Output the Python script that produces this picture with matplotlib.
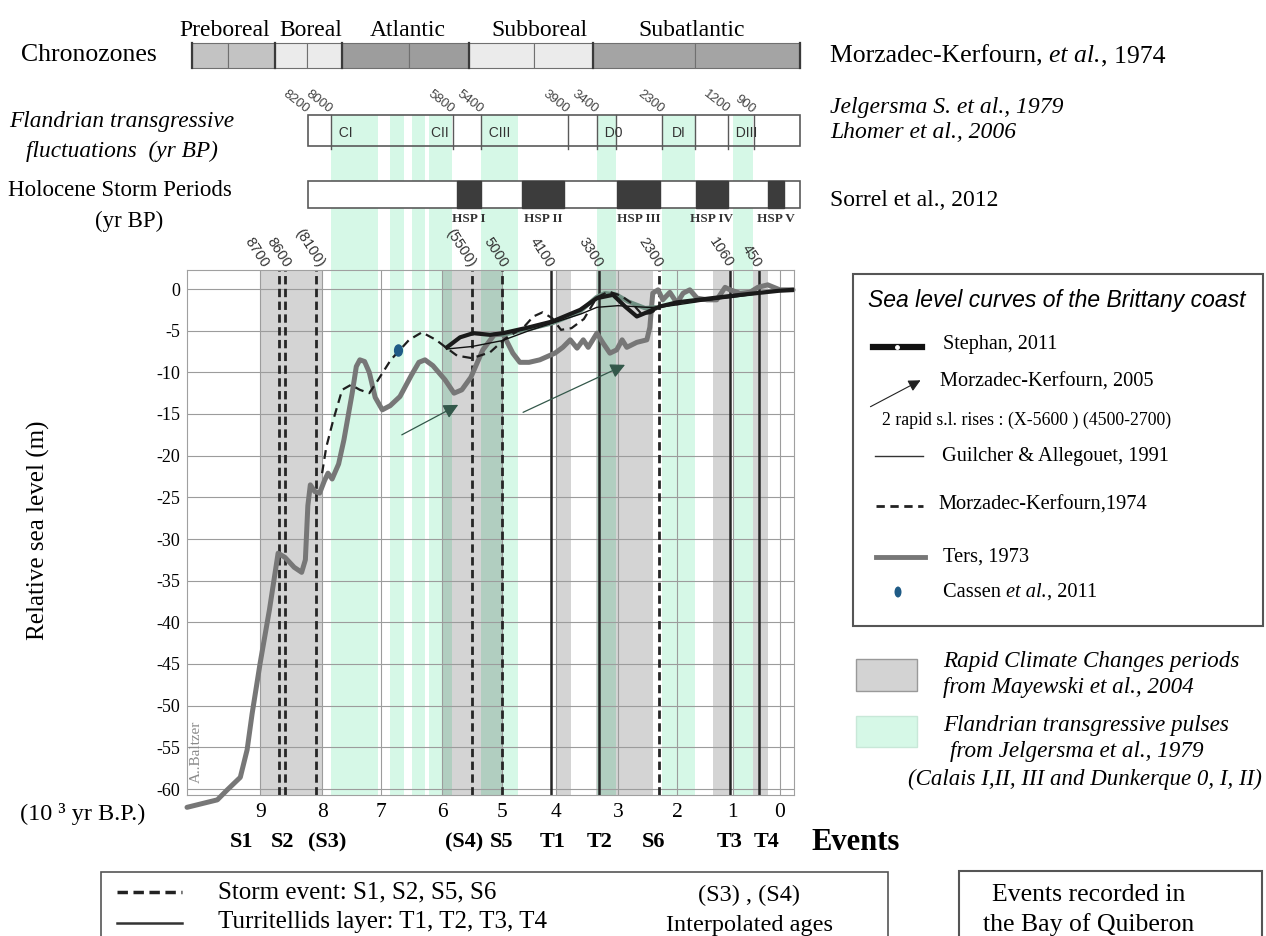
import numpy as np
import matplotlib
matplotlib.use("Agg")
import matplotlib.pyplot as plt
from matplotlib.patches import Rectangle, Ellipse, FancyArrowPatch
from matplotlib.lines import Line2D
from matplotlib.markers import MarkerStyle
from matplotlib.transforms import Affine2D

plt.rcParams["font.family"] = "Liberation Serif"
plt.rcParams["axes.unicode_minus"] = False

W, H = 1266, 936
SANS = "Liberation Sans"
GREEN = "#d6f8e7"
RCC = (0, 0, 0, 0.17)

# ---------------- data (ages in 10^3 yr BP, depths in m) ----------------
ticks_kyr = [9, 8, 7, 6, 5, 4, 3, 2, 1, 0]
depth_ticks = list(range(0, -61, -5))

# Ters, 1973 (main curve + upper branch)
ters_age = [10.18, 9.69, 9.53, 9.32, 9.21, 9.13, 9.0, 8.85, 8.71, 8.6, 8.45, 8.33,
            8.27, 8.23, 8.19, 8.12, 8.04, 7.96, 7.90, 7.83, 7.72, 7.63, 7.49, 7.42,
            7.36, 7.28, 7.2, 7.1, 6.98, 6.85, 6.69, 6.5, 6.38, 6.28, 6.15, 5.95,
            5.80, 5.67, 5.52, 5.32, 5.13, 4.98, 4.80, 4.67, 4.50, 4.30, 4.02, 3.89,
            3.77, 3.66, 3.56, 3.48, 3.34, 3.24, 3.13, 3.02, 2.93, 2.85, 2.68, 2.51,
            2.46, 2.41, 2.32, 2.24, 2.12, 2.0, 1.89, 1.77, 1.64, 1.46, 1.29, 1.14,
            1.05, 0.85, 0.64, 0.47, 0.26, 0.0, -0.28]
ters_depth = [-62.2, -61.3, -60.1, -58.6, -55.3, -51.0, -44.9, -38.5, -31.7, -32.2, -33.4, -34.0,
              -32.5, -26.0, -23.5, -24.3, -24.5, -23.0, -22.1, -22.8, -21.0, -18.1, -12.5, -9.3,
              -8.5, -8.7, -10.0, -13.0, -14.5, -14.0, -12.9, -10.3, -8.8, -8.5, -9.2, -10.9,
              -12.5, -12.1, -10.6, -7.3, -5.5, -5.4, -7.7, -8.8, -8.8, -8.5, -7.7, -7.0,
              -6.1, -7.1, -6.1, -7.0, -5.3, -6.5, -7.7, -7.3, -6.1, -7.0, -6.4, -6.1,
              -4.6, -0.5, -0.1, -1.3, -0.4, -1.7, -0.5, -0.1, -1.1, -1.3, -1.3, 0.2,
              -0.1, -0.5, -0.4, 0.2, 0.5, -0.1, -0.1]
ters_up_age = [5.0, 4.5, 4.07, 3.63, 3.35, 3.21, 3.02, 2.83, 2.54, 2.36]
ters_up_depth = [-5.5, -4.8, -4.1, -2.8, -1.0, -0.5, -0.7, -1.5, -2.3, -2.2]

# Stephan, 2011
steph_age = [5.92, 5.7, 5.48, 5.2, 4.98, 4.5, 4.07, 3.61, 3.34, 3.08, 2.88, 2.68,
             2.51, 2.29, 2.0, 1.5, 1.0, 0.5, 0.0, -0.28]
steph_depth = [-7.0, -5.8, -5.3, -5.5, -5.3, -4.6, -3.9, -2.5, -1.1, -0.7, -2.1, -3.3,
               -2.8, -2.1, -1.6, -1.2, -0.8, -0.5, -0.2, -0.1]

# Guilcher & Allegouet, 1991
guil_age = [5.92, 5.5, 5.0, 4.5, 4.07, 3.6, 3.34, 3.0, 2.5, 2.3, 2.0, 1.5, 1.0, 0.5, 0.0, -0.28]
guil_depth = [-7.2, -6.9, -6.2, -5.0, -4.1, -3.0, -2.2, -2.0, -2.2, -2.2, -1.9, -1.4, -1.0, -0.6, -0.2, -0.1]

# Morzadec-Kerfourn, 1974
morz_age = [8.0, 7.93, 7.81, 7.66, 7.51, 7.36, 7.2, 7.05, 6.84, 6.69, 6.54, 6.33,
            6.10, 5.92, 5.75, 5.5, 5.2, 4.95, 4.6, 4.42, 4.25, 4.07, 3.92, 3.75,
            3.55, 3.34, 3.15, 2.95, 2.75, 2.6, 2.45, 2.3]
morz_depth = [-22.1, -19.0, -15.7, -12.1, -11.5, -12.1, -12.5, -10.9, -8.5, -7.3, -6.1, -5.2,
              -6.1, -7.1, -8.0, -8.3, -7.6, -6.0, -4.6, -3.3, -2.8, -3.5, -4.9, -4.7,
              -3.6, -1.0, -0.3, -0.8, -1.8, -3.0, -2.9, -2.3]

# Cassen et al., 2011
cassen_age, cassen_depth = [6.72], [-7.3]

# Morzadec-Kerfourn, 2005: two rapid rises (tail, head)
rise_from = [(6.66, -17.5), (4.61, -14.8)]
rise_to = [(5.73, -13.9), (2.88, -9.1)]

# Rapid climate change periods (Mayewski et al., 2004)
rcc_start = [9.0, 6.0, 4.0, 3.35, 1.35, 0.57]
rcc_end = [8.0, 5.0, 3.75, 2.4, 1.05, 0.25]

# Flandrian transgressive pulses (Jelgersma et al., 1979)
green_start = [7.85, 6.85, 6.49, 6.21, 5.35, 3.34, 2.25, 1.0]
green_end = [7.05, 6.62, 6.28, 5.83, 4.70, 3.03, 1.68, 0.57]

# Events (Bay of Quiberon)
event_name = ["S1", "S2", "(S3)", "(S4)", "S5", "T1", "T2", "S6", "T3", "T4"]
event_age = [8.7, 8.6, 8.1, 5.5, 5.0, 4.1, 3.3, 2.3, 1.06, 0.45]
event_label = ["8700", "8600", "(8100)", "(5500)", "5000", "4100", "3300", "2300", "1060", "450"]
event_label_dx = [-13, 3, 5, 0, 3, 0, 0, 0, 0, 0]  # px nudges of the rotated labels
event_is_storm = [True, True, True, True, True, False, False, True, False, False]
event_text_x = [9.3, 8.63, 7.92, 5.63, 5.0, 4.06, 3.3, 2.4, 1.06, 0.28]

# Chronozones (Morzadec-Kerfourn et al., 1974)
chron_names = ["Preboreal", "Boreal", "Atlantic", "Subboreal", "Subatlantic"]
chron_edges = [10.1, 8.76, 7.66, 5.55, 3.40, -0.43]
chron_inner = [9.52, 8.24, 6.54, 4.41, 1.68]
chron_label_x = [9.58, 8.19, 6.56, 4.31, 1.73]
chron_colors = ["#c3c3c3", "#ebebeb", "#9d9d9d", "#ebebeb", "#a4a4a4"]

# Flandrian fluctuations bar
fland_span = (8.23, -0.43)
fland_lines = [7.85, 5.82, 5.35, 3.81, 3.34, 3.03, 2.25, 1.68, 1.09, 0.55]
fland_lab_age = [8.23, 7.85, 5.82, 5.35, 3.81, 3.34, 2.25, 1.09, 0.55]
fland_lab = ["8200", "8000", "5800", "5400", "3900", "3400", "2300", "1200", "900"]
pulse_names = ["CI", "CII", "CIII", "D0", "DI", "DIII"]
pulse_at = [7.85, 5.82, 5.35, 3.34, 1.97, 1.09]
pulse_ha = ["left", "right", "left", "left", "center", "left"]

# Holocene storm periods (Sorrel et al., 2012)
storm_span = (8.23, -0.43)
hsp_names = ["HSP I", "HSP II", "HSP III", "HSP IV", "HSP V"]
hsp_start = [5.75, 4.63, 3.02, 1.66, 0.26]
hsp_end = [5.35, 3.87, 2.29, 1.09, -0.09]

# ---------------- uneven hand-drawn time axis ----------------
SCALE_KYR = np.array([-5, 0, 1, 2, 3, 4, 5, 6, 7, 8, 9, 15], float)
SCALE_POS = np.array([1015, 780, 733, 677, 618, 556, 502, 442, 381, 322, 260, -112], float)


def fwd(a):
    return -np.interp(np.asarray(a, float), SCALE_KYR, SCALE_POS)


def inv(v):
    return np.interp(-np.asarray(v, float), SCALE_POS[::-1], SCALE_KYR[::-1])


def mid(a0, a1):
    return float(inv((fwd(a0) + fwd(a1)) / 2))


fig = plt.figure(figsize=(W / 100, H / 100), dpi=100)


def fx(p):
    return p / W


def fy(p):
    return 1 - p / H


AX_L, AX_R, AX_T, AX_B = 187, 794, 270, 795
ax = fig.add_axes([fx(AX_L), fy(AX_B), (AX_R - AX_L) / W, (AX_B - AX_T) / H])
ax.set_xscale("function", functions=(fwd, inv))
ax.set_xlim(10.18, -0.30)
ax.set_ylim(-60.72, 2.28)
trans = ax.get_xaxis_transform()

# green pulses run from the Flandrian bar down through the plot
top_green = (AX_B - 115) / (AX_B - AX_T)
for a0, a1 in zip(green_start, green_end):
    ax.add_patch(Rectangle((a0, 0), a1 - a0, top_green, transform=trans,
                           facecolor=GREEN, edgecolor="none", clip_on=False, zorder=0))
for a0, a1 in zip(rcc_start, rcc_end):
    ax.axvspan(a0, a1, color=RCC, lw=0, zorder=0.3)

ax.set_xticks(ticks_kyr)
ax.set_xticklabels([str(t) for t in ticks_kyr])
ax.set_yticks(depth_ticks)
ax.set_yticklabels([str(t) for t in depth_ticks])
ax.set_axisbelow(True)
ax.grid(True, color="#9c9c9c", lw=0.8)
ax.tick_params(axis="both", length=0)
ax.tick_params(axis="x", labelsize=15.5, pad=6)
ax.tick_params(axis="y", labelsize=13, pad=5)
for s in ax.spines.values():
    s.set_color("#a0a0a0")
    s.set_linewidth(0.8)

for a, storm in zip(event_age, event_is_storm):
    if storm:
        ax.axvline(a, color="#262626", lw=2.0, ls=(0, (3, 1.6)), zorder=2)
    else:
        ax.axvline(a, color="#262626", lw=1.8, zorder=2)

ax.plot(ters_age, ters_depth, color="#777777", lw=3.6, zorder=3,
        solid_joinstyle="round", solid_capstyle="round", clip_on=False)
ax.plot(ters_up_age, ters_up_depth, color="#6f8f82", lw=3.2, zorder=3,
        solid_joinstyle="round", solid_capstyle="round")
ax.plot(morz_age, morz_depth, color="#1e1e1e", lw=1.6, ls=(0, (4, 2.5)), zorder=4)
ax.plot(guil_age, guil_depth, color="#111111", lw=1.0, zorder=4)
ax.plot(steph_age, steph_depth, color="#1a1a1a", lw=3.0, zorder=5,
        solid_joinstyle="round")
ax.plot(cassen_age, cassen_depth, ls="none", color="#1f5b86", markersize=8,
        marker=MarkerStyle("o", transform=Affine2D().scale(0.7, 1.0)), zorder=6)
for p0, p1 in zip(rise_from, rise_to):
    ax.annotate("", xy=p1, xytext=p0, zorder=6,
                arrowprops=dict(arrowstyle="-|>", color="#33584a", lw=0.9,
                                mutation_scale=22, shrinkA=0, shrinkB=0))

for a, lab, dx in zip(event_age, event_label, event_label_dx):
    ax.annotate(lab, xy=(a, 1 + 4 / 525), xycoords=trans, xytext=(dx * 0.72, 0),
                textcoords="offset points", rotation=-57, rotation_mode="anchor",
                ha="right", va="center", fontsize=10.5, family=SANS, color="#333333",
                annotation_clip=False)
for a, name in zip(event_text_x, event_name):
    ax.text(a, -47 / 525, name, transform=trans, ha="center", va="center",
            fontsize=16, fontweight="bold")

fig.text(fx(811), fy(842), "Events", fontsize=22, fontweight="bold", va="center")
fig.text(fx(20), fy(814), "(10 \u00b3 yr B.P.)", fontsize=17.5, va="center")
fig.text(fx(38), fy(530), "Relative sea level (m)", rotation=90, fontsize=18,
         ha="center", va="center")
fig.text(fx(196), fy(752), "A..Baltzer", rotation=90, fontsize=11, color="#8a8a8a",
         ha="center", va="center")


def bar_axes(top, bottom):
    b = fig.add_axes([fx(AX_L), fy(bottom), (AX_R - AX_L) / W, (bottom - top) / H], sharex=ax)
    b.set_ylim(0, 1)
    b.axis("off")
    return b


# chronozones
cz = bar_axes(43, 68)
for i, name in enumerate(chron_names):
    a0, a1, am = chron_edges[i], chron_edges[i + 1], chron_inner[i]
    for b0, b1 in ((a0, am), (am, a1)):
        cz.add_patch(Rectangle((b0, 0), b1 - b0, 1, facecolor=chron_colors[i],
                               edgecolor="#707070", lw=0.8, clip_on=False))
    cz.text(chron_label_x[i], 1.5, name, ha="center", va="center", fontsize=17)
for a in chron_edges:
    cz.plot([a, a], [0, 1], color="#3a3a3a", lw=1.6, clip_on=False)

# Flandrian fluctuations
fl = bar_axes(115, 146)
fl.add_patch(Rectangle((fland_span[0], 0), fland_span[1] - fland_span[0], 1, fill=False,
                       edgecolor="#5a5a5a", lw=1.2, clip_on=False))
for a in fland_lines:
    fl.plot([a, a], [-0.1, 1], color="#5a5a5a", lw=1.0, clip_on=False)
for a, lab in zip(fland_lab_age, fland_lab):
    fl.text(a, 1.12, lab, rotation=-38, rotation_mode="anchor", ha="right", va="center",
            fontsize=9.5, family=SANS, color="#444444")
for a, name, ha in zip(pulse_at, pulse_names, pulse_ha):
    fl.text(a, 0.42, ("  " + name) if ha == "left" else (name + " " if ha == "right" else name),
            ha=ha, va="center", fontsize=10, family=SANS, color="#333333")

# storm periods
st = bar_axes(181, 208)
st.add_patch(Rectangle((storm_span[0], 0), storm_span[1] - storm_span[0], 1, facecolor="white",
                       edgecolor="#5a5a5a", lw=1.2, clip_on=False))
for a0, a1, name in zip(hsp_start, hsp_end, hsp_names):
    st.add_patch(Rectangle((a0, 0), a1 - a0, 1, facecolor="#3c3c3c", edgecolor="#3c3c3c",
                           clip_on=False))
    st.text(mid(a0, a1), -0.4, name, ha="center", va="center", fontsize=9.5,
            fontweight="bold", color="#333333")

# left-hand titles
fig.text(fx(157), fy(55), "Chronozones", fontsize=18.5, ha="right", va="center")
fig.text(fx(122), fy(122), "Flandrian transgressive", fontsize=16.8, style="italic",
         ha="center", va="center")
fig.text(fx(122), fy(151), "fluctuations  (yr BP)", fontsize=16.8, style="italic",
         ha="center", va="center")
fig.text(fx(232), fy(190), "Holocene Storm Periods", fontsize=16.5, ha="right", va="center")
fig.text(fx(129), fy(221), "(yr BP)", fontsize=16.5, ha="center", va="center")


def chain(parts, x, y, size):
    t = fig.text(fx(x), fy(y), parts[0][0], fontsize=size, style=parts[0][1], va="baseline")
    for s, sty in parts[1:]:
        t = ax.annotate(s, xy=(1, 0), xycoords=t, va="bottom", ha="left",
                        fontsize=size, style=sty, annotation_clip=False)
    return t


# right-hand sources
chain([("Morzadec-Kerfourn, ", "normal"), ("et al.", "italic"), (", 1974", "normal")], 830, 62, 18.5)
fig.text(fx(830), fy(107), "Jelgersma S. et al., 1979", fontsize=17, style="italic", va="center")
fig.text(fx(830), fy(133), "Lhomer et al., 2006", fontsize=17, style="italic", va="center")
fig.text(fx(830), fy(200), "Sorrel et al., 2012", fontsize=17, va="center")

# sea level legend box
fig.add_artist(Rectangle((fx(853), fy(626)), fx(1263) - fx(853), fy(274) - fy(626),
                         transform=fig.transFigure, fill=False, edgecolor="#555555", lw=1.5))
fig.text(fx(868), fy(300), "Sea level curves of the Brittany coast", family=SANS,
         style="italic", fontsize=16.5, va="center")
fig.add_artist(Line2D([fx(873), fx(922)], [fy(347)] * 2, color="#111111", lw=4.5))
fig.add_artist(Line2D([fx(897)], [fy(347)], marker="o", markersize=2.5, color="white", ls="none"))
fig.text(fx(943), fy(345), "Stephan, 2011", fontsize=14.5, va="center")
fig.add_artist(FancyArrowPatch((fx(868), fy(408)), (fx(923), fy(379)), transform=fig.transFigure,
                               arrowstyle="-|>", mutation_scale=18, color="#222222", lw=0.8))
fig.text(fx(940), fy(382), "Morzadec-Kerfourn, 2005", fontsize=14.7, va="center")
fig.text(fx(882), fy(420), "2 rapid s.l. rises : (X-5600 ) (4500-2700)", fontsize=12.8, va="center")
fig.add_artist(Line2D([fx(875), fx(923)], [fy(456)] * 2, color="#333333", lw=1.0))
fig.text(fx(942), fy(456), "Guilcher & Allegouet, 1991", fontsize=14.7, va="center")
fig.add_artist(Line2D([fx(876), fx(923)], [fy(506)] * 2, color="#222222", lw=2.0, ls=(0, (3, 2))))
fig.text(fx(938), fy(505), "Morzadec-Kerfourn,1974", fontsize=14.7, va="center")
fig.add_artist(Line2D([fx(876), fx(925)], [fy(557)] * 2, color="#777777", lw=3.5))
fig.text(fx(943), fy(557), "Ters, 1973", fontsize=14.7, va="center")
fig.add_artist(Ellipse((fx(898), fy(592)), 7 / W, 11 / H, transform=fig.transFigure,
                       facecolor="#1f5b86", edgecolor="none"))
chain([("Cassen ", "normal"), ("et al.", "italic"), (", 2011", "normal")], 943, 597, 14.7)

# shading legend
fig.add_artist(Rectangle((fx(856), fy(691)), fx(917) - fx(856), fy(659) - fy(691),
                         transform=fig.transFigure, facecolor="#d3d3d3", edgecolor="#999999", lw=1))
fig.text(fx(943), fy(662), "Rapid Climate Changes periods", fontsize=16.7, style="italic", va="center")
fig.text(fx(943), fy(688), "from Mayewski et al., 2004", fontsize=16.7, style="italic", va="center")
fig.add_artist(Rectangle((fx(856), fy(747)), fx(917) - fx(856), fy(716) - fy(747),
                         transform=fig.transFigure, facecolor=GREEN, edgecolor="#c8e8d8", lw=1))
fig.text(fx(943), fy(725), "Flandrian transgressive pulses", fontsize=16.7, style="italic", va="center")
fig.text(fx(1077), fy(752), "from Jelgersma et al., 1979", fontsize=16.7, style="italic",
         ha="center", va="center")
fig.text(fx(1262), fy(779), "(Calais I,II, III and Dunkerque 0, I, II)", fontsize=16.5,
         style="italic", ha="right", va="center")

# bottom legend boxes
fig.add_artist(Rectangle((fx(101), fy(945)), fx(888) - fx(101), fy(872) - fy(945),
                         transform=fig.transFigure, fill=False, edgecolor="#555555", lw=1.2))
fig.add_artist(Line2D([fx(117), fx(182)], [fy(892)] * 2, color="#222222", lw=2.5, ls=(0, (3, 1.6))))
fig.text(fx(218), fy(892), "Storm event: S1, S2, S5, S6", fontsize=18, va="center")
fig.add_artist(Line2D([fx(117), fx(182)], [fy(923)] * 2, color="#333333", lw=1.8))
fig.text(fx(218), fy(922), "Turritellids layer: T1, T2, T3, T4", fontsize=18, va="center")
fig.text(fx(749), fy(895), "(S3) , (S4)", fontsize=17.5, ha="center", va="center")
fig.text(fx(749), fy(926), "Interpolated ages", fontsize=17.5, ha="center", va="center")

fig.add_artist(Rectangle((fx(959), fy(945)), fx(1262) - fx(959), fy(871) - fy(945),
                         transform=fig.transFigure, fill=False, edgecolor="#555555", lw=1.5))
fig.text(fx(1089), fy(895), "Events recorded in", fontsize=18.5, ha="center", va="center")
fig.text(fx(1089), fy(925), "the Bay of Quiberon", fontsize=18.5, ha="center", va="center")

fig.savefig("out.png", dpi=100)
